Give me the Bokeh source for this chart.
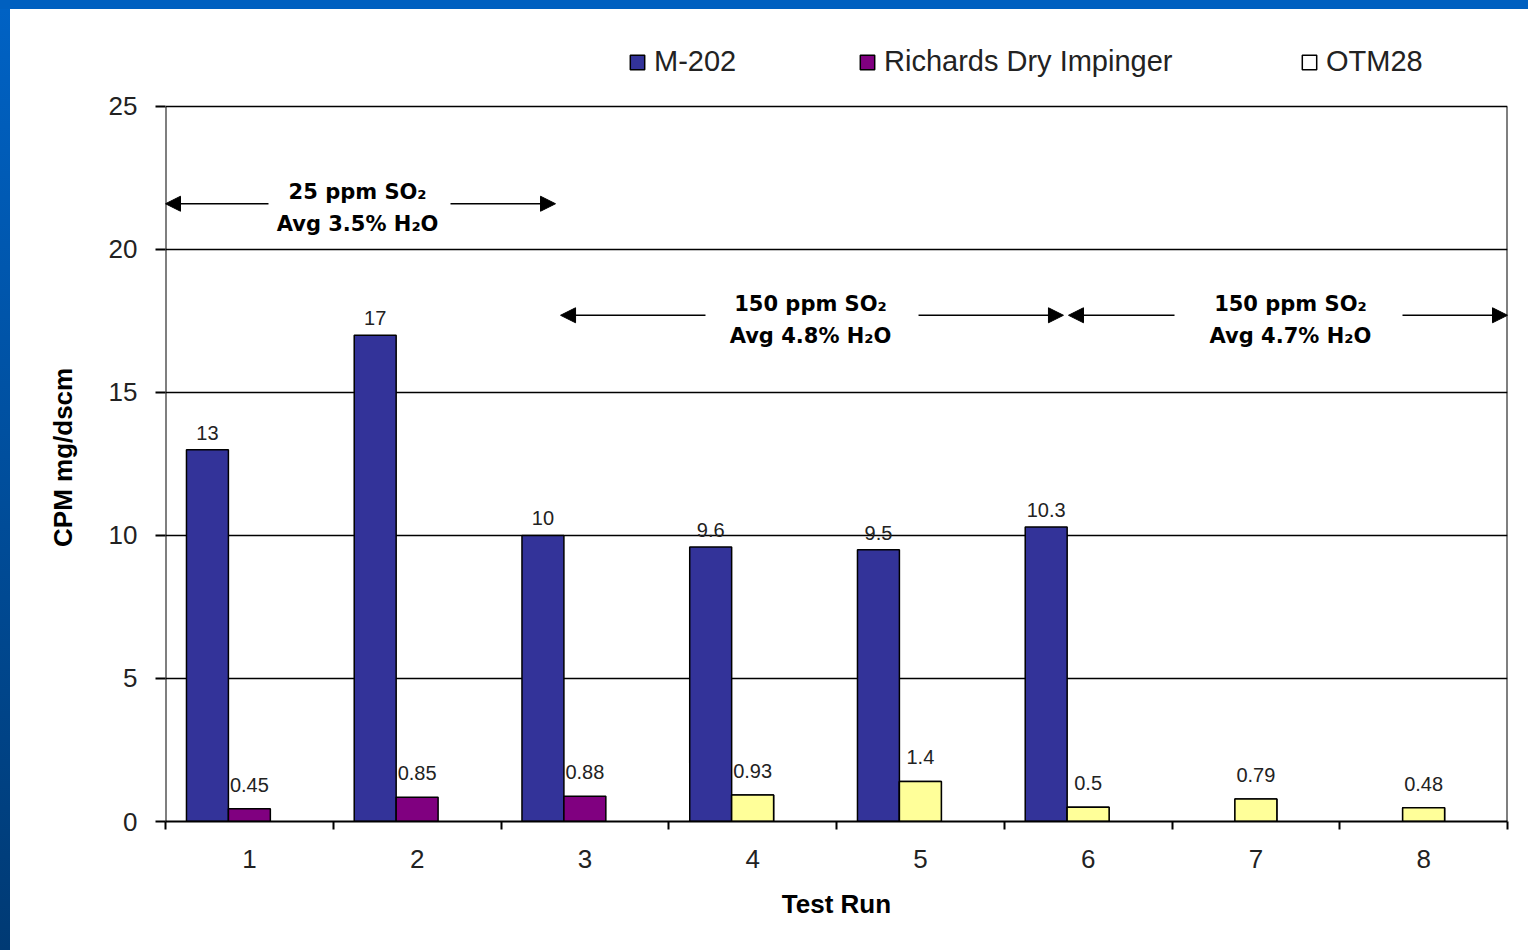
from bokeh.plotting import figure
from bokeh.models import (ColumnDataSource, Range1d, FixedTicker, Legend, LegendItem,
                          Label, Arrow, NormalHead, Div)
from bokeh.core.properties import value
from bokeh.layouts import column, row
from bokeh.embed import file_html
from bokeh.resources import INLINE

# Test runs and measured CPM (mg/dscm) per sampling method
runs = [1, 2, 3, 4, 5, 6, 7, 8]
m202_runs = [1, 2, 3, 4, 5, 6]
m202_vals = [13, 17, 10, 9.6, 9.5, 10.3]
rdi_runs = [1, 2, 3]
rdi_vals = [0.45, 0.85, 0.88]
otm_runs = [4, 5, 6, 7, 8]
otm_vals = [0.93, 1.4, 0.5, 0.79, 0.48]
y_ticks = [0, 5, 10, 15, 20, 25]

FONT = "Liberation Sans"
BAR_W = 0.25
X_LO, X_HI = runs[0] - 0.5, runs[-1] + 0.5
Y_TOP = y_ticks[-1]


def src(xs, vals, shift):
    return ColumnDataSource(dict(
        x=[x + shift for x in xs],
        top=vals,
        label=[f"{v:g}" for v in vals],
    ))


s_m202 = src(m202_runs, m202_vals, -BAR_W)
s_rdi = src(rdi_runs, rdi_vals, 0.0)
s_otm = src(otm_runs, otm_vals, 0.0)

# the frame reaches above the 25 line so the key can sit inside it
p = figure(width=1518, height=941, output_backend="svg", toolbar_location=None,
           x_range=Range1d(X_LO, X_HI), y_range=Range1d(0, 27.4825),
           min_border_left=155, min_border_right=21, min_border_top=26,
           min_border_bottom=129, margin=0)
p.background_fill_color = "white"
p.border_fill_color = "white"
p.outline_line_color = None

# box around the value area (left and right sides; top is the 25 grid line)
p.segment(x0=[X_LO, X_HI], y0=[0, 0], x1=[X_LO, X_HI], y1=[Y_TOP, Y_TOP],
          line_color="black", line_width=2)

bar_kw = dict(width=BAR_W, bottom=0, line_color="black", line_width=1.5)
r_m202 = p.vbar(x="x", top="top", source=s_m202, fill_color="#333399", **bar_kw)
r_rdi = p.vbar(x="x", top="top", source=s_rdi, fill_color="#800080", **bar_kw)
# OTM28 key swatch is unfilled; this white layer lies under the yellow bars
r_otm_key = p.vbar(x="x", top="top", source=s_otm, fill_color="white", **bar_kw)
r_otm = p.vbar(x="x", top="top", source=s_otm, fill_color="#FFFF99", **bar_kw)

lbl_kw = dict(text="label", text_align="center", text_baseline="middle",
              text_font=value(FONT), text_font_size="20px", text_color="#222222")
p.text(x="x", y="top", source=s_m202, y_offset=-17, **lbl_kw)
p.text(x="x", y="top", source=s_rdi, y_offset=-24, **lbl_kw)
p.text(x="x", y="top", source=s_otm, y_offset=-24, **lbl_kw)

# axes
p.xaxis.ticker = FixedTicker(ticks=runs, minor_ticks=[r + 0.5 for r in [0] + runs])
p.xaxis.major_tick_out = 0
p.xaxis.major_tick_in = 0
p.xaxis.minor_tick_out = 8
p.xaxis.minor_tick_in = 0
p.xaxis.minor_tick_line_color = "black"
p.xaxis.minor_tick_line_width = 2
p.xaxis.major_label_standoff = 20
p.xaxis.axis_label = "Test Run"
p.xaxis.axis_label_standoff = 18
p.xaxis.axis_line_color = "black"
p.xaxis.axis_line_width = 2

p.yaxis.ticker = FixedTicker(ticks=y_ticks)
p.yaxis.major_tick_out = 10
p.yaxis.major_tick_in = 0
p.yaxis.minor_tick_line_color = None
p.yaxis.major_label_standoff = 18
# trailing no-break spaces keep the title centred on the 0-25 span
p.yaxis.axis_label = "CPM mg/dscm" + "\u00a0" * 8
p.yaxis.axis_label_standoff = 28
p.yaxis.axis_line_color = None

for ax in (p.xaxis[0], p.yaxis[0]):
    ax.major_tick_line_color = "black"
    ax.major_tick_line_width = 2
    ax.major_label_text_font = FONT
    ax.major_label_text_font_size = "26px"
    ax.major_label_text_color = "#222222"
    ax.axis_label_text_font = FONT
    ax.axis_label_text_font_style = "bold"
    ax.axis_label_text_font_size = "26px"
    ax.axis_label_text_color = "black"

p.xgrid.grid_line_color = None
p.ygrid.ticker = FixedTicker(ticks=y_ticks[1:])
p.ygrid.grid_line_color = "black"
p.ygrid.grid_line_width = 1.6
p.ygrid.grid_line_alpha = 1.0

# test condition annotations
conditions = [
    (1.645, "25 ppm SO\u2082", "Avg 3.5% H\u2082O", 21.6, (1.114, 0.5), (2.199, 2.825)),
    (4.345, "150 ppm SO\u2082", "Avg 4.8% H\u2082O", 17.7, (3.719, 2.855), (4.989, 5.853)),
    (7.206, "150 ppm SO\u2082", "Avg 4.7% H\u2082O", 17.7, (6.515, 5.883), (7.874, 8.5)),
]
for xc, line1, line2, ya, left_arr, right_arr in conditions:
    for txt, dy in ((line1, 0.4), (line2, -0.72)):
        p.add_layout(Label(x=xc, y=ya + dy, text=txt, text_align="center",
                           text_baseline="middle", text_font="DejaVu Sans",
                           text_font_style="bold", text_font_size="21px",
                           text_color="black"))
    for xs, xe in (left_arr, right_arr):
        p.add_layout(Arrow(end=NormalHead(size=15, fill_color="black",
                                          line_color="black"),
                           x_start=xs, y_start=ya, x_end=xe, y_end=ya,
                           line_color="black", line_width=1.5))

# key: one entry per series, each placed on its own
key_entries = [("M-202", r_m202, 463), ("Richards Dry Impinger", r_rdi, 693),
               ("OTM28", r_otm_key, 1135)]
for name, rend, xpos in key_entries:
    lg = Legend(items=[LegendItem(label=name, renderers=[rend])],
                location=(xpos, 743), orientation="horizontal")
    lg.border_line_color = None
    lg.background_fill_alpha = 0
    lg.label_text_font = FONT
    lg.label_text_font_size = "29px"
    lg.label_text_color = "#222222"
    lg.glyph_width = 18
    lg.glyph_height = 18
    lg.label_standoff = 8
    lg.padding = 0
    lg.margin = 0
    p.add_layout(lg)

top_bar = Div(width=1528, height=9, margin=0, styles={"background": "#0060c0"})
left_bar = Div(width=10, height=941, margin=0,
               styles={"background": "linear-gradient(#0062c4, #003a74)"})
layout = column(top_bar, row(left_bar, p, spacing=0, margin=0), spacing=0, margin=0)

open("out.html", "w").write(file_html(layout, INLINE))
